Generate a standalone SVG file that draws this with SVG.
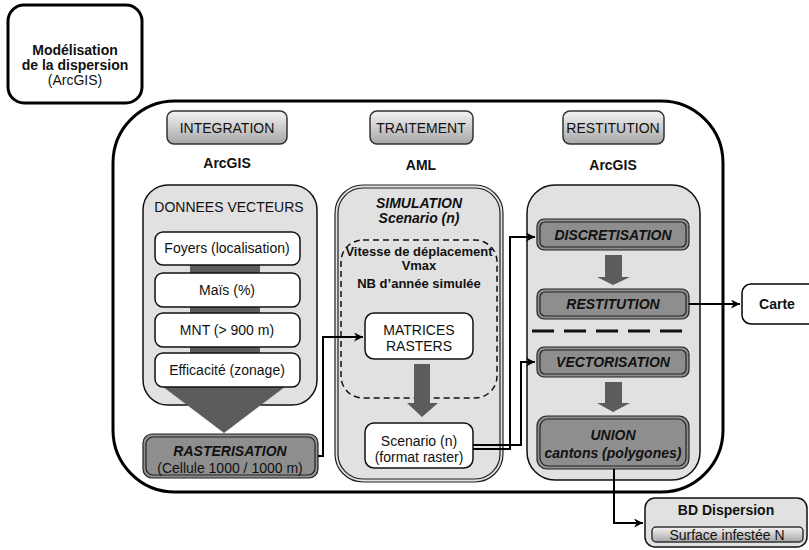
<svg xmlns="http://www.w3.org/2000/svg" width="809" height="550" viewBox="0 0 809 550">
<defs>
<linearGradient id="tabg" x1="0" y1="0" x2="0" y2="1">
<stop offset="0" stop-color="#f4f4f4"/>
<stop offset="1" stop-color="#a6a6a6"/>
</linearGradient>
<marker id="ah" viewBox="0 0 10 10" refX="10" refY="5" markerWidth="9" markerHeight="9" markerUnits="userSpaceOnUse" orient="auto">
<path d="M0,0 L10,5 L0,10 L3,5 Z" fill="#000"/>
</marker>
<style>
text{font-family:"Liberation Sans",Arial,sans-serif;font-size:14px;fill:#111;text-anchor:middle}
.b{font-weight:bold}
.bi{font-weight:bold;font-style:italic}
.tab{fill:url(#tabg);stroke:#333;stroke-width:1.5}
.panel{fill:#e1e1e1;stroke:#111;stroke-width:1.5}
.wbox{fill:#fff;stroke:#111;stroke-width:1.5}
.dbox{fill:#8e8e8e;stroke:#222;stroke-width:1.2}
.inner{fill:none;stroke:#222;stroke-width:1.2}
.dark{fill:#5c5c5c}
.conn{fill:none;stroke:#000;stroke-width:2}
</style>
</defs>

<g id="title">
<rect x="8" y="5" width="134" height="98" rx="16" fill="#fff" stroke="#000" stroke-width="3"/>
<text x="75" y="55" class="b">Modélisation</text>
<text x="75" y="70" class="b">de la dispersion</text>
<text x="75" y="85">(ArcGIS)</text>
</g>

<g id="container">
<rect x="113" y="101" width="610" height="391" rx="62" fill="#fff" stroke="#000" stroke-width="3"/>
</g>

<g id="integration">
<rect x="167" y="111" width="120" height="33" rx="7" class="tab"/>
<text x="227" y="133">INTEGRATION</text>
<text x="227" y="168" class="b">ArcGIS</text>
</g>
<g id="traitement">
<rect x="370" y="111" width="103" height="33" rx="7" class="tab"/>
<text x="421" y="133">TRAITEMENT</text>
<text x="421" y="170" class="b">AML</text>
</g>
<g id="restitution-tab">
<rect x="563" y="111" width="101" height="33" rx="7" class="tab"/>
<text x="613" y="133">RESTITUTION</text>
<text x="613" y="170" class="b">ArcGIS</text>
</g>

<g id="donnees">
<rect x="143" y="185" width="174" height="220" rx="25" class="panel"/>
<text x="229" y="212">DONNEES VECTEURS</text>
<rect x="190" y="262" width="70" height="100" class="dark"/>
<polygon points="158,383 290,383 224,433" class="dark"/>
</g>
<g id="foyers">
<rect x="155" y="232" width="145" height="33" rx="8" class="wbox"/>
<text x="227" y="253">Foyers (localisation)</text>
</g>
<g id="mais">
<rect x="155" y="273" width="145" height="34" rx="8" class="wbox"/>
<text x="227" y="295">Maïs (%)</text>
</g>
<g id="mnt">
<rect x="155" y="313" width="145" height="34" rx="8" class="wbox"/>
<text x="227" y="335">MNT (&gt; 900 m)</text>
</g>
<g id="efficacite">
<rect x="155" y="353" width="145" height="34" rx="8" class="wbox"/>
<text x="227" y="375">Efficacité (zonage)</text>
</g>
<g id="rasterisation">
<rect x="143" y="434" width="175" height="44" rx="9" class="dbox"/>
<rect x="146" y="437" width="169" height="38" rx="7" class="inner"/>
<text x="230" y="456" class="bi">RASTERISATION</text>
<text x="230" y="473">(Cellule 1000 / 1000 m)</text>
</g>

<g id="simulation">
<rect x="335" y="185" width="168" height="297" rx="28" fill="#e1e1e1" stroke="#222" stroke-width="1.2"/>
<rect x="338" y="188" width="162" height="291" rx="25" fill="none" stroke="#222" stroke-width="1.2"/>
<text x="419" y="208" class="bi">SIMULATION</text>
<text x="419" y="223" class="bi">Scenario (n)</text>
<rect x="341" y="240" width="156" height="158" rx="22" fill="none" stroke="#111" stroke-width="1.5" stroke-dasharray="6,4"/>
<text x="419" y="256" class="b" style="font-size:13px">Vitesse de déplacement</text>
<text x="419" y="270" class="b" style="font-size:13px">Vmax</text>
<text x="419" y="288" class="b" style="font-size:13px">NB d’année simulée</text>
<polygon points="414,364 430,364 430,403 438,403 422,417 407,403 414,403" class="dark"/>
</g>
<g id="matrices">
<rect x="365" y="313" width="108" height="46" rx="9" class="wbox"/>
<text x="419" y="335">MATRICES</text>
<text x="419" y="351">RASTERS</text>
</g>
<g id="scenario">
<rect x="365" y="423" width="108" height="45" rx="9" class="wbox"/>
<text x="419" y="446">Scenario (n)</text>
<text x="419" y="462">(format raster)</text>
</g>

<g id="restitution-panel">
<rect x="527" y="185" width="173" height="295" rx="28" class="panel"/>
<line x1="532" y1="331" x2="690" y2="331" stroke="#111" stroke-width="3" stroke-dasharray="22,10"/>
<polygon points="605,255 622,255 622,277 630,277 613,285 597,277 605,277" class="dark"/>
<polygon points="605,382 622,382 622,403 630,403 613,412 597,403 605,403" class="dark"/>
</g>
<g id="discretisation">
<rect x="537" y="219" width="152" height="31" rx="7" class="dbox"/>
<rect x="540" y="222" width="146" height="25" rx="5" class="inner"/>
<text x="613" y="240" class="bi">DISCRETISATION</text>
</g>
<g id="restitution">
<rect x="537" y="289" width="152" height="30" rx="7" class="dbox"/>
<rect x="540" y="292" width="146" height="24" rx="5" class="inner"/>
<text x="613" y="309" class="bi">RESTITUTION</text>
</g>
<g id="vectorisation">
<rect x="537" y="347" width="152" height="30" rx="7" class="dbox"/>
<rect x="540" y="350" width="146" height="24" rx="5" class="inner"/>
<text x="613" y="367" class="bi">VECTORISATION</text>
</g>
<g id="union">
<rect x="537" y="416" width="152" height="53" rx="10" class="dbox"/>
<rect x="540" y="419" width="146" height="47" rx="8" class="inner"/>
<text x="613" y="440" class="bi">UNION</text>
<text x="613" y="458" class="bi">cantons (polygones)</text>
</g>

<g id="carte">
<rect x="742" y="284" width="80" height="40" rx="9" fill="#fff" stroke="#000" stroke-width="1.5"/>
<text x="777" y="309" class="b">Carte</text>
</g>
<g id="bd">
<rect x="645" y="498" width="162" height="49" rx="10" fill="#e1e1e1" stroke="#111" stroke-width="1.5"/>
<text x="726" y="515" class="b">BD Dispersion</text>
<rect x="652" y="527" width="151" height="15" rx="4" class="tab"/>
<text x="727" y="540">Surface infestée N</text>
</g>

<g id="connectors">
<polyline class="conn" points="318,456 323,456 323,337 363,337" marker-end="url(#ah)"/>
<polyline class="conn" points="473,449 510,449 510,237 535,237" marker-end="url(#ah)"/>
<polyline class="conn" points="473,445 521,445 521,362 535,362" marker-end="url(#ah)"/>
<polyline class="conn" points="689,304 740,304" marker-end="url(#ah)"/>
<polyline class="conn" points="614,469 614,523 643,523" marker-end="url(#ah)"/>
</g>
</svg>
